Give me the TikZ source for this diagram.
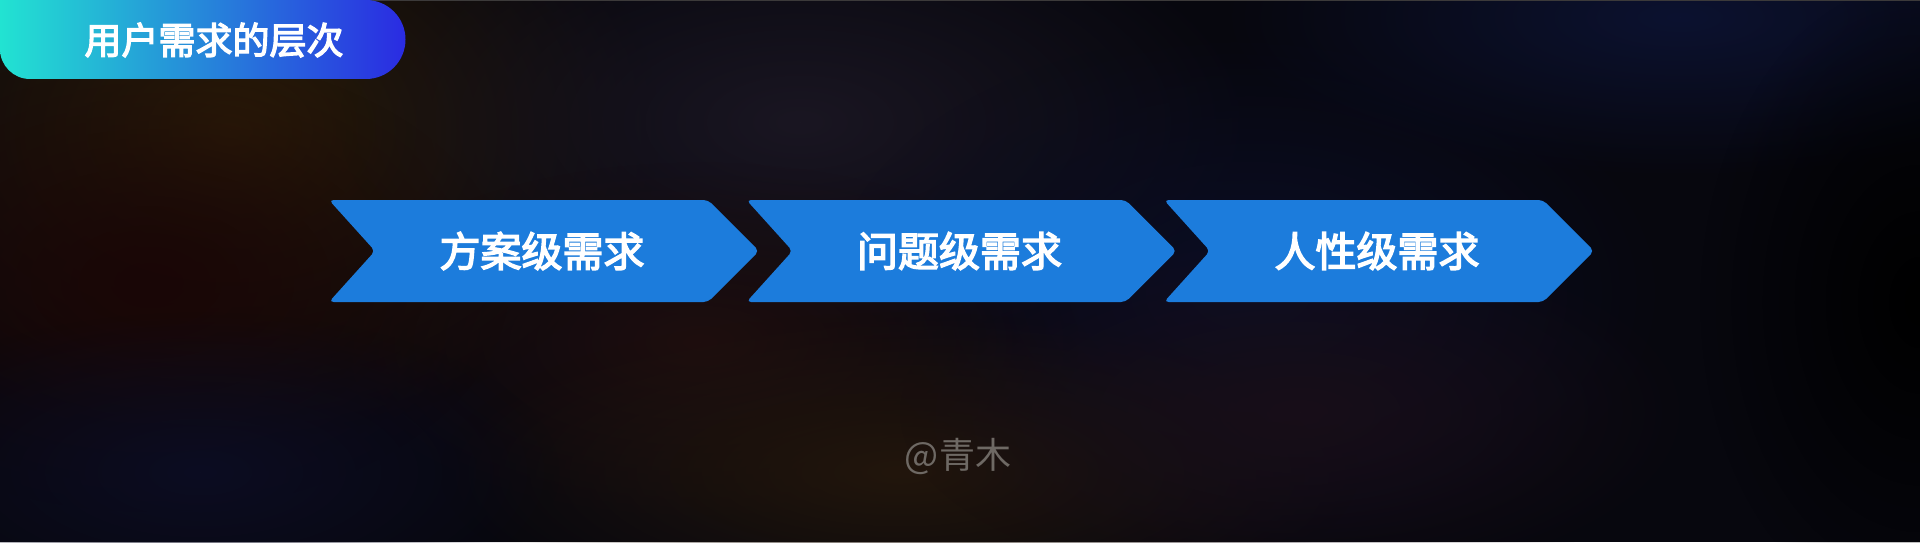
\documentclass[tikz,border=0pt]{standalone}
\usepackage{fontspec}
\usepackage{xcolor}
\setmainfont{Noto Sans CJK SC}
\newfontfamily\cjk{Noto Sans CJK SC}
\newfontfamily\cjkmid{Noto Sans CJK SC}[FakeBold=3.5]
\usetikzlibrary{fadings,positioning}

\definecolor{bgbase}{HTML}{07070E}
\definecolor{arrowblue}{HTML}{1C7CDC}
\definecolor{titleleft}{HTML}{22E3D2}
\definecolor{titleright}{HTML}{2A2BE2}
\definecolor{signgray}{HTML}{6E6964}
\definecolor{topline}{HTML}{3C3A3A}

\tikzfading[name=blob, inner color=transparent!0, outer color=transparent!100]

\tikzset{
  chevron/.style={fill=arrowblue, rounded corners=4.5pt},
  steplabel/.style={text=white, font=\cjkmid\fontsize{41pt}{41pt}\selectfont},
  titlelabel/.style={text=white, font=\cjkmid\fontsize{37pt}{37pt}\selectfont},
  signlabel/.style={text=signgray, font=\cjk\fontsize{36pt}{36pt}\selectfont},
  glow/.style={path fading=blob}
}

\begin{document}
\begin{tikzpicture}[x=1pt,y=1pt]
\useasboundingbox (0,0) rectangle (1920,542);

% background
\fill[bgbase] (0,0) rectangle (1920,542);
\fill[glow, color={rgb,255:red,44;green,28;blue,8}] (230,412) ellipse (430 and 310);
\fill[glow, color={rgb,255:red,26;green,6;blue,6}] (150,260) ellipse (360 and 230);
\fill[glow, color={rgb,255:red,26;green,22;blue,34}] (800,420) ellipse (460 and 230);
\fill[glow, color={rgb,255:red,12;green,18;blue,48}] (1680,525) ellipse (460 and 160);
\fill[glow, color={rgb,255:red,11;green,14;blue,38}] (1250,250) ellipse (420 and 260);
\fill[glow, color={rgb,255:red,30;green,14;blue,14}] (700,200) ellipse (380 and 180);
\fill[glow, color={rgb,255:red,34;green,22;blue,12}] (900,70) ellipse (460 and 160);
\fill[glow, color={rgb,255:red,24;green,14;blue,24}] (1300,130) ellipse (400 and 180);
\fill[glow, color={rgb,255:red,12;green,13;blue,34}] (200,70) ellipse (360 and 160);
\fill[glow, black] (1920,240) ellipse (220 and 320);
\draw[topline, line width=1.5pt] (0,541.25) -- (1920,541.25);

% title badge
\shade[left color=titleleft, right color=titleright]
  (0,542) -- (366,542) arc[start angle=90, end angle=-90, radius=39.5]
  -- (30,463) arc[start angle=270, end angle=180, radius=30] -- cycle;
\node[titlelabel] (title) at (214,502) {用户需求的层次};

% three levels
\foreach \lbl [count=\i from 0] in {方案级需求,问题级需求,人性级需求}
{
 \pgfmathsetmacro\xl{329+417.5*\i}
 \fill[chevron] (\xl,342) -- ++(379,0) -- ++(51,-51) -- ++(-51,-51)
   -- ++(-379,0) -- ++(46,51) -- cycle;
 \node[steplabel] (need\i) at (\xl+213,291) {\lbl};
}

\node[signlabel] (sign) at (958,86) {@青木};
\end{tikzpicture}
\end{document}
